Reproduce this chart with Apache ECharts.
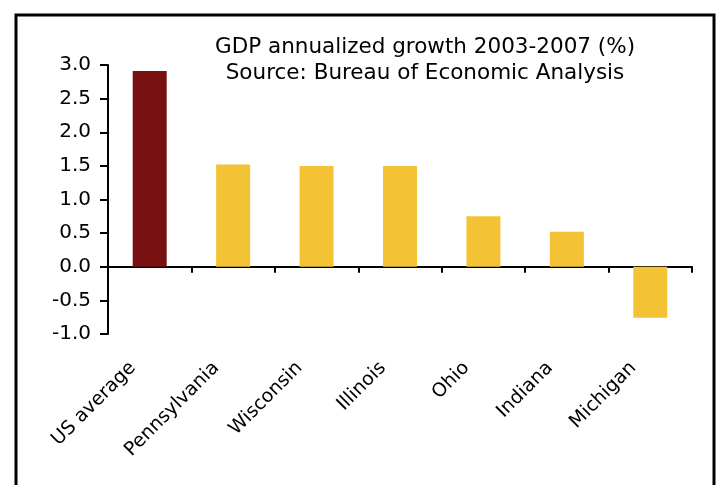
<!DOCTYPE html>
<html>
<head>
<meta charset="utf-8">
<script src="https://cdn.jsdelivr.net/npm/echarts@6/dist/echarts.min.js"></script>
<style>
  html, body { margin: 0; padding: 0; background: #fff; }
  #main { width: 719px; height: 485px; }
</style>
</head>
<body>
<div id="main"></div>
<script>
// GDP annualized growth 2003-2007 (%)
var states = ['US average', 'Pennsylvania', 'Wisconsin', 'Illinois', 'Ohio', 'Indiana', 'Michigan'];
var growth = [2.91, 1.52, 1.50, 1.50, 0.75, 0.52, -0.76];
var barColors = ['#781212', '#F3C335', '#F3C335', '#F3C335', '#F3C335', '#F3C335', '#F3C335'];

var chart = echarts.init(document.getElementById('main'));

var option = {
    animation: false,
    textStyle: { fontFamily: 'DejaVu Sans' },
    title: {
        text: 'GDP annualized growth 2003-2007 (%)\nSource: Bureau of Economic Analysis',
        left: 420,
        top: 29,
        textAlign: 'center',
        textStyle: {
            fontFamily: 'DejaVu Sans',
            fontSize: 21.5,
            fontWeight: 'normal',
            color: '#000',
            lineHeight: 26
        }
    },
    graphic: [{
        type: 'rect',
        shape: { x: 16, y: 15, width: 698, height: 500 },
        style: { fill: 'none', stroke: '#000', lineWidth: 3 },
        silent: true
    }],
    grid: {
        left: 108,
        right: 27,
        top: 65,
        bottom: 151,
        outerBoundsMode: 'none'
    },
    xAxis: {
        type: 'category',
        data: states,
        axisLine: { onZero: true, lineStyle: { color: '#000', width: 2 } },
        axisTick: { show: true, length: 6, lineStyle: { color: '#000', width: 2 } },
        axisLabel: {
            rotate: 45,
            margin: 14,
            padding: [0, 24, 0, 0],
            fontSize: 19,
            color: '#000',
            interval: 0
        }
    },
    yAxis: {
        type: 'value',
        min: -1,
        max: 3,
        interval: 0.5,
        splitLine: { show: false },
        axisLine: { show: true, lineStyle: { color: '#000', width: 2 } },
        axisTick: { show: true, length: 8, lineStyle: { color: '#000', width: 2 } },
        axisLabel: {
            fontSize: 20,
            color: '#000',
            margin: 17,
            formatter: function (v) { return v.toFixed(1); }
        }
    },
    series: [{
        type: 'bar',
        barWidth: 34,
        data: growth.map(function (v, i) {
            return { value: v, itemStyle: { color: barColors[i] } };
        })
    }]
};

chart.setOption(option);
</script>
</body>
</html>
